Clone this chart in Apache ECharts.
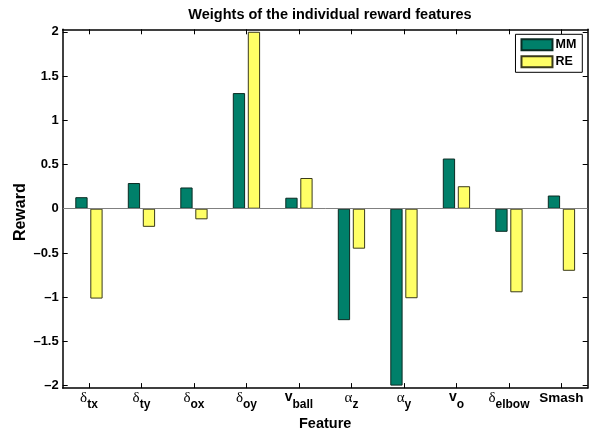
<!DOCTYPE html>
<html>
<head>
<meta charset="utf-8">
<style>
  html, body { margin: 0; padding: 0; background: #fff; }
  #chart { width: 595px; height: 436px; }
</style>
<script src="https://cdn.jsdelivr.net/npm/echarts@6/dist/echarts.min.js"></script>
</head>
<body>
<div id="chart"></div>
<script>
// Feature labels: main symbol + subscript
const featureSymbols = ['δ', 'δ', 'δ', 'δ', 'v', 'α', 'α', 'v', 'δ', 'Smash'];
const featureSubscripts = ['tx', 'ty', 'ox', 'oy', 'ball', 'z', 'y', 'o', 'elbow', ''];
const categories = featureSymbols.map((s, i) => s + featureSubscripts[i]);

// Reward weights per feature
const mmValues = [0.13, 0.29, 0.24, 1.307, 0.124, -1.26, -2.0, 0.567, -0.261, 0.149];
const reValues = [-1.016, -0.205, -0.12, 2.0, 0.347, -0.452, -1.012, 0.254, -0.945, -0.702];

const yTicks = [-2, -1.5, -1, -0.5, 0, 0.5, 1, 1.5, 2];

const FONT = 'Liberation Sans, Arial, Helvetica, sans-serif';
const Y_MIN = -2.028, Y_MAX = 2.028;

function featureLabel(value, index) {
  const sym = featureSymbols[index];
  const sub = featureSubscripts[index];
  if (!sub) return '{p|' + sym + '}';
  const symStyle = (sym === 'v') ? 'v' : 'g';
  return '{' + symStyle + '|' + sym + '}{s|' + sub + '}';
}

const chart = echarts.init(document.getElementById('chart'), null, { renderer: 'canvas' });

chart.setOption({
  animation: false,
  backgroundColor: '#ffffff',
  title: {
    text: 'Weights of the individual reward features',
    left: 325, top: 2, textAlign: 'center',
    textStyle: { fontFamily: FONT, fontWeight: 'bold', fontSize: 14.5, color: '#000' }
  },
  grid: { left: 62.7, right: 7.3, top: 29.3, bottom: 45.3, containLabel: false },
  legend: {
    data: ['MM', 'RE'],
    orient: 'vertical',
    right: 12.7, top: 34.3,
    icon: 'rect',
    itemWidth: 31, itemHeight: 11, itemGap: 4,
    padding: [4, 6, 4, 5],
    borderColor: '#000', borderWidth: 1,
    backgroundColor: '#fff',
    textStyle: { fontFamily: FONT, fontWeight: 'bold', fontSize: 12.5, color: '#000', padding: [0, 0, 0, -2] }
  },
  xAxis: [
    {
      type: 'category', data: categories, position: 'bottom',
      name: 'Feature', nameLocation: 'middle', nameGap: 25,
      nameTextStyle: { fontFamily: FONT, fontWeight: 'bold', fontSize: 14.5, color: '#000' },
      axisLine: { onZero: false, lineStyle: { color: '#000', width: 1.5 } },
      axisTick: { show: true, inside: true, length: 5, alignWithLabel: true, lineStyle: { color: '#000' } },
      axisLabel: {
        interval: 0, margin: 2, color: '#000', verticalAlign: 'top',
        formatter: featureLabel,
        rich: {
          g: { fontFamily: 'Liberation Serif, DejaVu Serif, serif', fontSize: 15, color: '#000', verticalAlign: 'top', lineHeight: 13 },
          v: { fontFamily: FONT, fontWeight: 'bold', fontSize: 14, color: '#000', verticalAlign: 'top', lineHeight: 13 },
          s: { fontFamily: FONT, fontWeight: 'bold', fontSize: 12, color: '#000', verticalAlign: 'top', lineHeight: 12, padding: [9, 0, 0, 0] },
          p: { fontFamily: FONT, fontWeight: 'bold', fontSize: 13.5, color: '#000', verticalAlign: 'top', lineHeight: 13, padding: [1, 0, 0, 0] }
        }
      },
      splitLine: { show: false }
    },
    {
      type: 'category', data: categories, position: 'top',
      axisLine: { onZero: false, lineStyle: { color: '#000', width: 1.5 } },
      axisTick: { show: true, inside: true, length: 5, alignWithLabel: true, lineStyle: { color: '#000' } },
      axisLabel: { show: false },
      splitLine: { show: false }
    }
  ],
  yAxis: [
    {
      type: 'value', min: Y_MIN, max: Y_MAX, position: 'left',
      name: 'Reward', nameLocation: 'middle', nameGap: 34, nameMoveOverlap: false,
      nameTextStyle: { fontFamily: FONT, fontWeight: 'bold', fontSize: 16, color: '#000', padding: [0, 7, 0, 0] },
      axisLine: { show: true, onZero: false, lineStyle: { color: '#000', width: 1.5 } },
      axisTick: { show: true, inside: true, length: 5, customValues: yTicks, lineStyle: { color: '#000' } },
      axisLabel: {
        customValues: yTicks, margin: 4, color: '#000',
        fontFamily: FONT, fontWeight: 'bold', fontSize: 13,
        formatter: v => String(v).replace('-', '\u2013')
      },
      splitLine: { show: false }
    },
    {
      type: 'value', min: Y_MIN, max: Y_MAX, position: 'right',
      axisLine: { show: true, onZero: false, lineStyle: { color: '#000', width: 1.5 } },
      axisTick: { show: true, inside: true, length: 5, customValues: yTicks, lineStyle: { color: '#000' } },
      axisLabel: { show: false },
      splitLine: { show: false }
    }
  ],
  series: [
    {
      name: 'MM', type: 'bar', data: mmValues,
      barWidth: 12.3, barGap: '22%',
      itemStyle: { color: '#00806A', borderColor: '#0a2a22', borderWidth: 1 },
      markLine: {
        silent: true, symbol: 'none', label: { show: false },
        lineStyle: { color: '#808080', width: 1, type: 'solid' },
        data: [{ yAxis: 0 }]
      }
    },
    {
      name: 'RE', type: 'bar', data: reValues,
      barWidth: 12.3, barGap: '22%',
      itemStyle: { color: '#FFFF66', borderColor: '#3a3a1a', borderWidth: 1 }
    }
  ]
});
</script>
</body>
</html>
